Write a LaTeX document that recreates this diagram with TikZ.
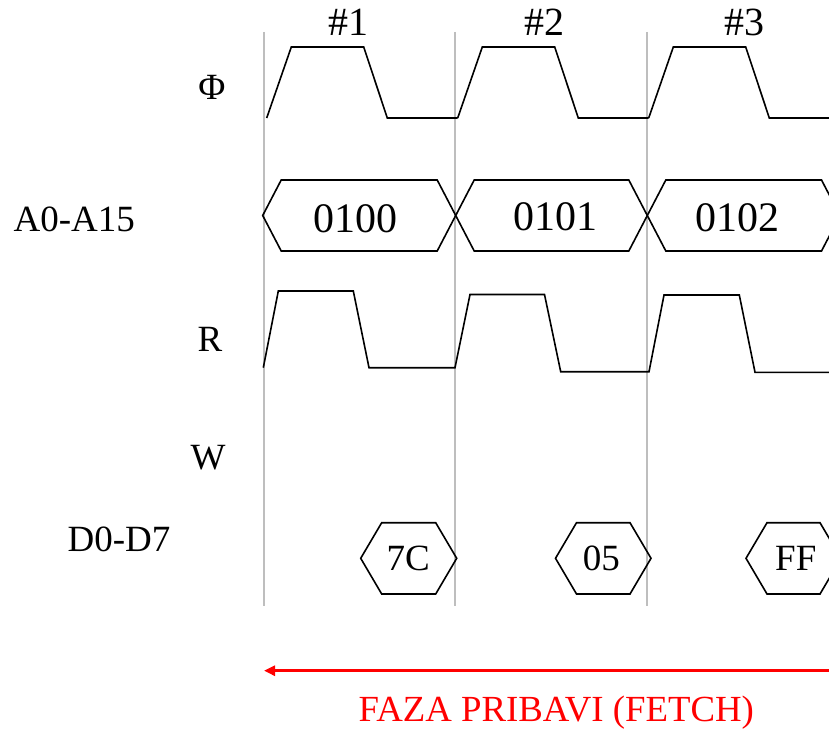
\documentclass[tikz,border=0pt]{standalone}
\usepackage{fontspec}
\setmainfont{Liberation Serif}
\usetikzlibrary{arrows.meta}
\definecolor{tickgray}{RGB}{190,190,190}
\definecolor{fetchred}{RGB}{255,0,0}

\begin{document}
\begin{tikzpicture}[x=1pt, y=-1pt,
    sig/.style={line width=1.6pt},
    every node/.style={inner sep=0pt, anchor=base},
    lbl/.style={font=\fontsize{37}{44}\selectfont},
    hexlbl/.style={anchor=center, font=\fontsize{42}{50}\selectfont},
    datlbl/.style={anchor=center, font=\fontsize{37}{44}\selectfont}]
  \useasboundingbox (0,0) rectangle (829,730);
  \clip (0,0) rectangle (829,730);
  % clock boundaries
  \foreach \x in {264,455,647}
    \draw[tickgray,line width=1.5pt] (\x,32) -- (\x,606);
  \foreach \n/\x in {1/348,2/544,3/744}
    \node[font=\fontsize{40}{48}\selectfont] (cyc\n) at (\x,36) {\#\n};
  % signal names
  \node[lbl] (lphi) at (212,100) {Φ};
  \node[lbl] (laddr) at (74.2,231.7) {A0-A15};
  \node[lbl] (lrd) at (210,351.7) {R};
  \node[lbl] (lwr) at (208,469.3) {W};
  \node[lbl] (ldata) at (119,551.7) {D0-D7};
  % clock
  \foreach \o in {0,191,382}
    \draw[sig] (266.7+\o,118) -- (291.3+\o,47) -- (363.7+\o,47)
      -- (387.3+\o,118) -- (457.7+\o,118);
  % address bus
  \foreach \i/\l/\r/\s/\t/\y in {1/262.7/455.7/0100/355/219, 2/455.7/647.3/0101/555.7/217, 3/647.3/840/0102/737.7/217.5} {
    \draw[sig] (\l,215.5) -- (\l+18.5,180) -- (\r-18.5,180) -- (\r,215.5)
      -- (\r-18.5,251) -- (\l+18.5,251) -- cycle;
    \node[hexlbl] (adr\i) at (\t,\y) {\s};
  }
  % read
  \draw[sig] (263.3,367.7) -- (278.3,291) -- (353.3,291) -- (369,367.7)
    -- (455,367.7) -- (470,294.5) -- (544.5,294.5) -- (560.7,371.7)
    -- (649,371.7) -- (664,295) -- (739.3,295) -- (755,372.3) -- (840,372.3);
  % data bus
  \foreach \i/\l/\r/\s/\t in {1/360.7/456.7/7C/408.3, 2/555.5/651/05/601.3, 3/746/841/FF/795.8} {
    \draw[sig] (\l,558.3) -- (\l+21,522.7) -- (\r-21,522.7) -- (\r,558.3)
      -- (\r-21,594) -- (\l+21,594) -- cycle;
    \node[datlbl] (dat\i) at (\t,558.8) {\s};
  }
  % fetch phase
  \coordinate (fetchR) at (829,670.7);
  \coordinate (fetchL) at (264,670.7);
  \draw[fetchred,line width=3pt,-{Triangle[length=11pt,width=10pt]}] (fetchR) -- (fetchL);
  \node[fetchred,font=\fontsize{36.8}{44}\selectfont] (fetch) at (556.3,721.7) {FAZA PRIBAVI (FETCH)};
\end{tikzpicture}
\end{document}
